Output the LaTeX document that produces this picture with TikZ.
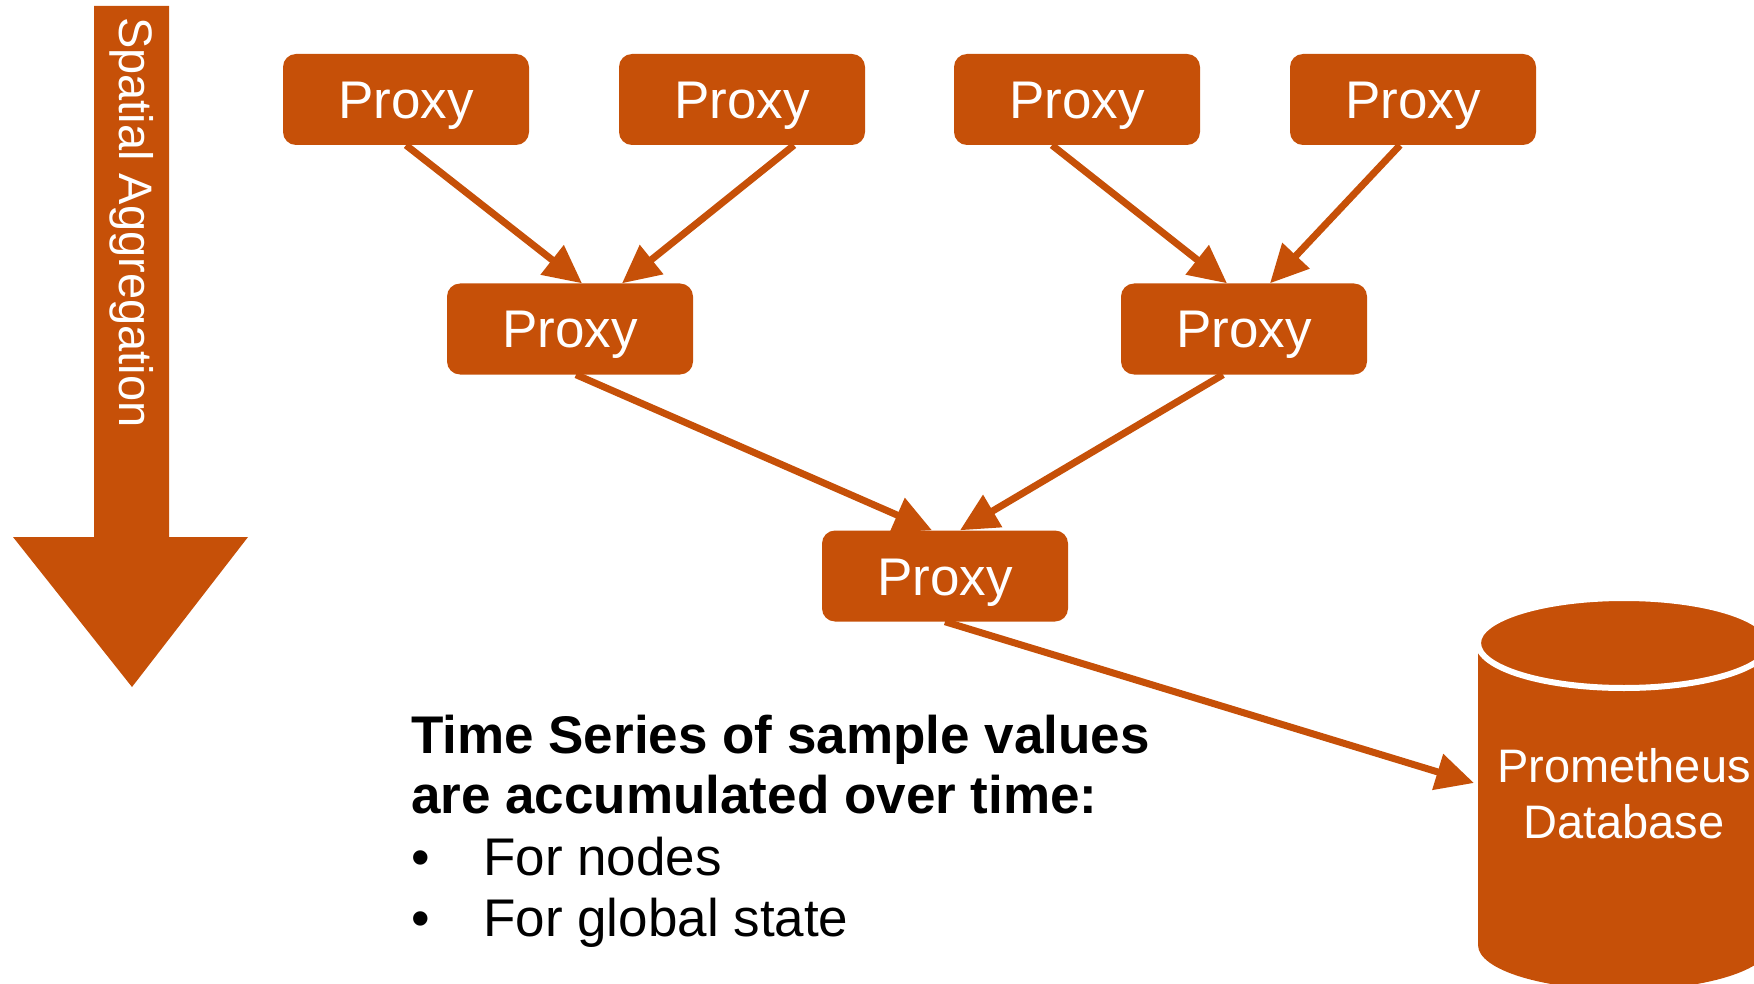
\documentclass[tikz,border=0pt]{standalone}
\usepackage{fontspec}
\setmainfont{Liberation Sans}
\usetikzlibrary{arrows.meta,calc}

\definecolor{rust}{RGB}{198,80,8}

\tikzset{
  proxy/.style={draw=none, fill=rust, rounded corners=13pt,
    minimum width=246pt, minimum height=91pt, inner sep=0pt,
    text=white, font=\fontsize{53}{60}\selectfont,
    text height=38pt, text depth=0pt},
  link/.style={draw=rust, line width=7pt,
    -{Triangle[length=38pt,width=36pt]}},
  note/.style={anchor=base west, inner sep=0pt, text=black,
    font=\fontsize{53}{62}\selectfont}
}

\begin{document}
\begin{tikzpicture}[x=1pt,y=-1pt]
\useasboundingbox (0,0) rectangle (1754,984);

% direction arrow on the left
\fill[rust] (94,6) -- (169,6) -- (169,537) -- (248,537) -- (132,687)
  -- (13,537) -- (94,537) -- cycle;
\node[rotate=-90, anchor=west, inner sep=0pt, text=white,
  font=\fontsize{47}{56}\selectfont] (axis) at (132,17) {Spatial Aggregation};

% proxy tree
\node[proxy] (p1) at (406,99.5) {Proxy};
\node[proxy] (p2) at (742,99.5) {Proxy};
\node[proxy] (p3) at (1077,99.5) {Proxy};
\node[proxy] (p4) at (1413,99.5) {Proxy};
\node[proxy] (m1) at (570,329) {Proxy};
\node[proxy] (m2) at (1244,329) {Proxy};
\node[proxy] (b)  at (945,576) {Proxy};

% database cylinder
\fill[rust] (1478,643) -- (1478,945) arc[start angle=180, end angle=360,
  x radius=146, y radius=-45] -- (1770,643) -- cycle;
\filldraw[fill=rust, draw=white, line width=6pt] (1624,643) ellipse[x radius=146, y radius=45];
\node[inner sep=0pt, text=white, align=center,
  font=\fontsize{47}{56}\selectfont] (db) at (1624,794) {Prometheus\\Database};
\coordinate (dbin) at (1474,783);

% connectors
\draw[link] (p1.south) -- ($(m1.north)+(12,0)$);
\draw[link] ($(p2.south)+(52,0)$) -- ($(m1.north)+(52,0)$);
\draw[link] ($(p3.south)+(-25,0)$) -- ($(m2.north)+(-17,0)$);
\draw[link] ($(p4.south)+(-13,0)$) -- ($(m2.north)+(26,0)$);
\draw[link] ($(m1.south)+(6,0)$) -- ($(b.north)+(-13,0)$);
\draw[link] ($(m2.south)+(-21,0)$) -- ($(b.north)+(15,0)$);
\draw[link] (b.south) -- (dbin);

% caption
\node[note, font=\bfseries\fontsize{53}{62}\selectfont] (t1) at (411,753) {Time Series of sample values};
\node[note, font=\bfseries\fontsize{53}{62}\selectfont] (t2) at (411,813) {are accumulated over time:};
\node[note] (b1) at (411,875) {•};
\node[note] (i1) at (483,875) {For nodes};
\node[note] (b2) at (411,936) {•};
\node[note] (i2) at (483,936) {For global state};
\end{tikzpicture}
\end{document}
